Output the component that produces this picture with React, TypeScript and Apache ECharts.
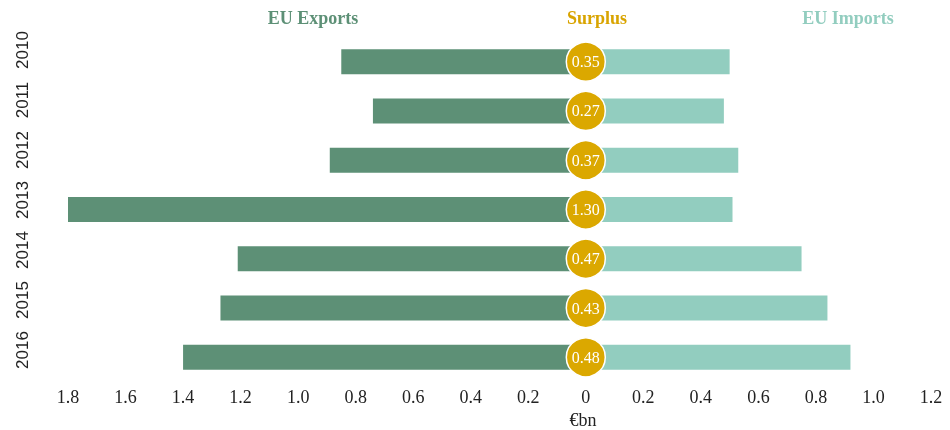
import React, { useEffect, useRef } from "react";
import * as echarts from "echarts";

const years = ["2010", "2011", "2012", "2013", "2014", "2015", "2016"];
const exportsBn = [0.85, 0.74, 0.89, 1.8, 1.21, 1.27, 1.4];
const importsBn = [0.5, 0.48, 0.53, 0.51, 0.75, 0.84, 0.92];
const surplusBn = [0.35, 0.27, 0.37, 1.3, 0.47, 0.43, 0.48];
const xTicks = { min: -1.8, max: 1.2, interval: 0.2 };

const SERIF = "'Liberation Serif', serif";
const SANS = "'Liberation Sans', Arial, sans-serif";

export default function App() {
  const ref = useRef<HTMLDivElement>(null);
  useEffect(() => {
    if (!ref.current) return;
    const chart = echarts.init(ref.current, null, { renderer: "svg" });
    chart.setOption({
      animation: false,
      grid: [
        { left: 68, right: 19, top: 37, bottom: 48, containLabel: false },
        { left: 68, right: 19, top: 25, bottom: 55, containLabel: false },
      ],
      xAxis: [
        {
          type: "value",
          gridIndex: 0,
          min: xTicks.min,
          max: xTicks.max,
          interval: xTicks.interval,
          axisLine: { show: false },
          axisTick: { show: false },
          splitLine: { show: false },
          axisLabel: {
            margin: 6,
            color: "#222",
            fontFamily: SERIF,
            fontSize: 18,
            formatter: (v: number) => {
              const a = Math.abs(v);
              if (a < 1e-9) return "0";
              return a.toFixed(1);
            },
          },
        },
        {
          type: "value",
          gridIndex: 1,
          min: xTicks.min,
          max: xTicks.max,
          show: false,
        },
      ],
      yAxis: [
        {
          type: "category",
          gridIndex: 0,
          data: years,
          inverse: true,
          axisLine: { show: false },
          axisTick: { show: false },
          splitLine: { show: false },
          axisLabel: { show: false },
        },
        {
          type: "category",
          gridIndex: 1,
          data: years,
          inverse: true,
          axisLine: { show: false },
          axisTick: { show: false },
          splitLine: { show: false },
          axisLabel: {
            interval: 0,
            rotate: 90,
            margin: 37,
            color: "#222",
            fontFamily: SANS,
            fontSize: 17,
          },
        },
      ],
      graphic: [
        {
          type: "text",
          x: 313,
          y: 18,
          style: {
            text: "EU Exports",
            fill: "#5d9076",
            font: `bold 18px ${SERIF}`,
            textAlign: "center",
            textVerticalAlign: "middle",
          },
        },
        {
          type: "text",
          x: 597,
          y: 18,
          style: {
            text: "Surplus",
            fill: "#d9a400",
            font: `bold 18px ${SERIF}`,
            textAlign: "center",
            textVerticalAlign: "middle",
          },
        },
        {
          type: "text",
          x: 848,
          y: 18,
          style: {
            text: "EU Imports",
            fill: "#92cdbf",
            font: `bold 18px ${SERIF}`,
            textAlign: "center",
            textVerticalAlign: "middle",
          },
        },
        {
          type: "text",
          x: 583,
          y: 420,
          style: {
            text: "€bn",
            fill: "#222",
            font: `18px ${SERIF}`,
            textAlign: "center",
            textVerticalAlign: "middle",
          },
        },
      ],
      series: [
        {
          name: "EU Exports",
          type: "bar",
          data: exportsBn.map((v) => -v),
          barWidth: 25,
          barGap: "-100%",
          itemStyle: { color: "#5d9076" },
          z: 2,
        },
        {
          name: "EU Imports",
          type: "bar",
          data: importsBn,
          barWidth: 25,
          barGap: "-100%",
          itemStyle: { color: "#92cdbf" },
          z: 2,
        },
        {
          name: "Surplus",
          type: "scatter",
          data: years.map((y, i) => [0, y, surplusBn[i]]),
          symbol: "circle",
          symbolSize: 39,
          itemStyle: { color: "#dba800", borderColor: "#ffffff", borderWidth: 1.5, opacity: 1 },
          label: {
            show: true,
            position: "inside",
            color: "#ffffff",
            fontFamily: SERIF,
            fontSize: 16,
            formatter: (p: any) => Number(p.value[2]).toFixed(2),
          },
          z: 5,
        },
      ],
    });
    return () => chart.dispose();
  }, []);
  return (
    <div
      ref={ref}
      style={{ position: "fixed", left: 0, top: 0, width: 950, height: 430 }}
    />
  );
}
